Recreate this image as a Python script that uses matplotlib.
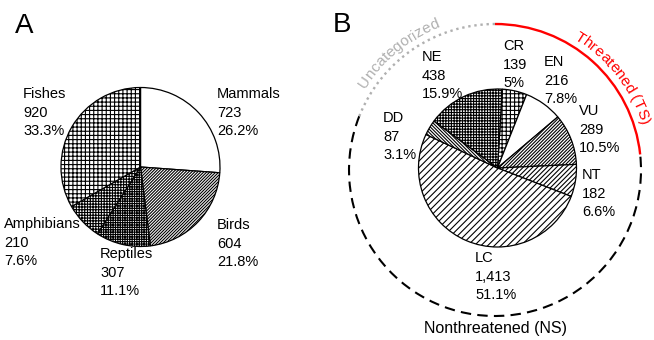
import numpy as np
import matplotlib
matplotlib.use('Agg')
import matplotlib.pyplot as plt
from matplotlib.patches import Arc
from matplotlib.font_manager import FontProperties

plt.rcParams['font.family'] = ['Liberation Sans', 'DejaVu Sans']
plt.rcParams['hatch.linewidth'] = 0.8

# Panel A: species by group
groups = ['Mammals', 'Birds', 'Reptiles', 'Amphibians', 'Fishes']
group_counts = [723, 604, 307, 210, 920]
group_pcts = ['26.2%', '21.8%', '11.1%', '7.6%', '33.3%']

# Panel B: species by IUCN status
status = ['CR', 'EN', 'VU', 'NT', 'LC', 'DD', 'NE']
status_counts = [139, 216, 289, 182, 1413, 87, 438]
status_pcts = ['5%', '7.8%', '10.5%', '6.6%', '51.1%', '3.1%', '15.9%']

# outer ring groups
ring_names = ['Threatened (TS)', 'Nonthreatened (NS)', 'Uncategorized']
ring_members = [['CR', 'EN', 'VU'], ['NT', 'LC'], ['DD', 'NE']]

# styles / layout (axes units are pixels, y up)
W, H = 654, 340
hatch_a = ['', '///////////', '+++++++', '++++++', '++++']
hatch_b = ['++++', '', '//////////', '///////', '/////', '\\\\\\\\\\\\\\\\\\\\', '++++++']
lab_a = [(217, 87), (217, 218), (100, 247), (4, 217), (23, 87)]
lab_b = [(503, 39), (544, 55), (579, 104), (582, 168), (475, 251), (383, 111), (422, 50)]
fs = 10.5

fig = plt.figure(figsize=(W / 100, H / 100), dpi=100)
ax = fig.add_axes([0, 0, 1, 1])

wp = dict(edgecolor='black', linewidth=0.9)
wa, _ = ax.pie(group_counts, center=(140.5, H - 167), radius=79.5,
               startangle=90, counterclock=False, colors=['white'] * 5,
               wedgeprops=wp, frame=True)
for w, h in zip(wa, hatch_a):
    w.set_hatch(h)

wb, _ = ax.pie(status_counts, center=(497.5, H - 168), radius=79,
               startangle=86.5, counterclock=False, colors=['white'] * 7,
               wedgeprops=wp, frame=True)
for w, h in zip(wb, hatch_b):
    w.set_hatch(h)

ax.set_xlim(0, W)
ax.set_ylim(0, H)
ax.set_aspect('equal')
ax.axis('off')

for (x, y), name, n, p in zip(lab_a, groups, group_counts, group_pcts):
    ax.text(x, H - y, f'{name}\n{n:,}\n{p}', ha='left', va='top',
            fontsize=fs, linespacing=1.42)
for (x, y), name, n, p in zip(lab_b, status, status_counts, status_pcts):
    ax.text(x, H - y, f'{name}\n{n:,}\n{p}', ha='left', va='top',
            fontsize=fs, linespacing=1.42)

# outer ring
total = sum(status_counts)
cx, cy, rr = 495, H - 170, 146
ring_styles = [dict(color='red', linestyle='-', linewidth=1.7),
               dict(color='black', linestyle=(0, (5, 3)), linewidth=1.5),
               dict(color='#b0b0b0', linestyle=(0, (1, 1.6)), linewidth=1.7)]
a0 = 90.0
for members, st in zip(ring_members, ring_styles):
    part = sum(status_counts[status.index(m)] for m in members)
    a1 = a0 - 360.0 * part / total
    ax.add_patch(Arc((cx, cy), 2 * rr, 2 * rr, theta1=a1, theta2=a0, **st))
    a0 = a1

renderer = fig.canvas.get_renderer()


def curved_text(s, mid, r, color, size):
    prop = FontProperties(family='Liberation Sans', size=size)

    def tw(t):
        return renderer.get_text_width_height_descent(t, prop, ismath=False)[0]
    total_w = tw(s)
    for i, ch in enumerate(s):
        if ch == ' ':
            continue
        pos = tw(s[:i + 1]) - tw(ch) / 2 - total_w / 2
        ang = mid - np.degrees(pos / r)
        t = np.radians(ang)
        ax.text(cx + r * np.cos(t), cy + r * np.sin(t), ch, rotation=ang - 90,
                rotation_mode='anchor', ha='center', va='baseline',
                color=color, fontproperties=prop)


curved_text('Threatened (TS)', 38, 153, 'red', 11)
curved_text('Uncategorized', 129.5, 153, '#b0b0b0', 11)

ax.text(496, H - 328, 'Nonthreatened (NS)', ha='center', va='center', fontsize=11.5)
ax.text(15, H - 26, 'A', ha='left', va='center', fontsize=20)
ax.text(333, H - 25, 'B', ha='left', va='center', fontsize=20)

fig.savefig('out.png', dpi=100)
